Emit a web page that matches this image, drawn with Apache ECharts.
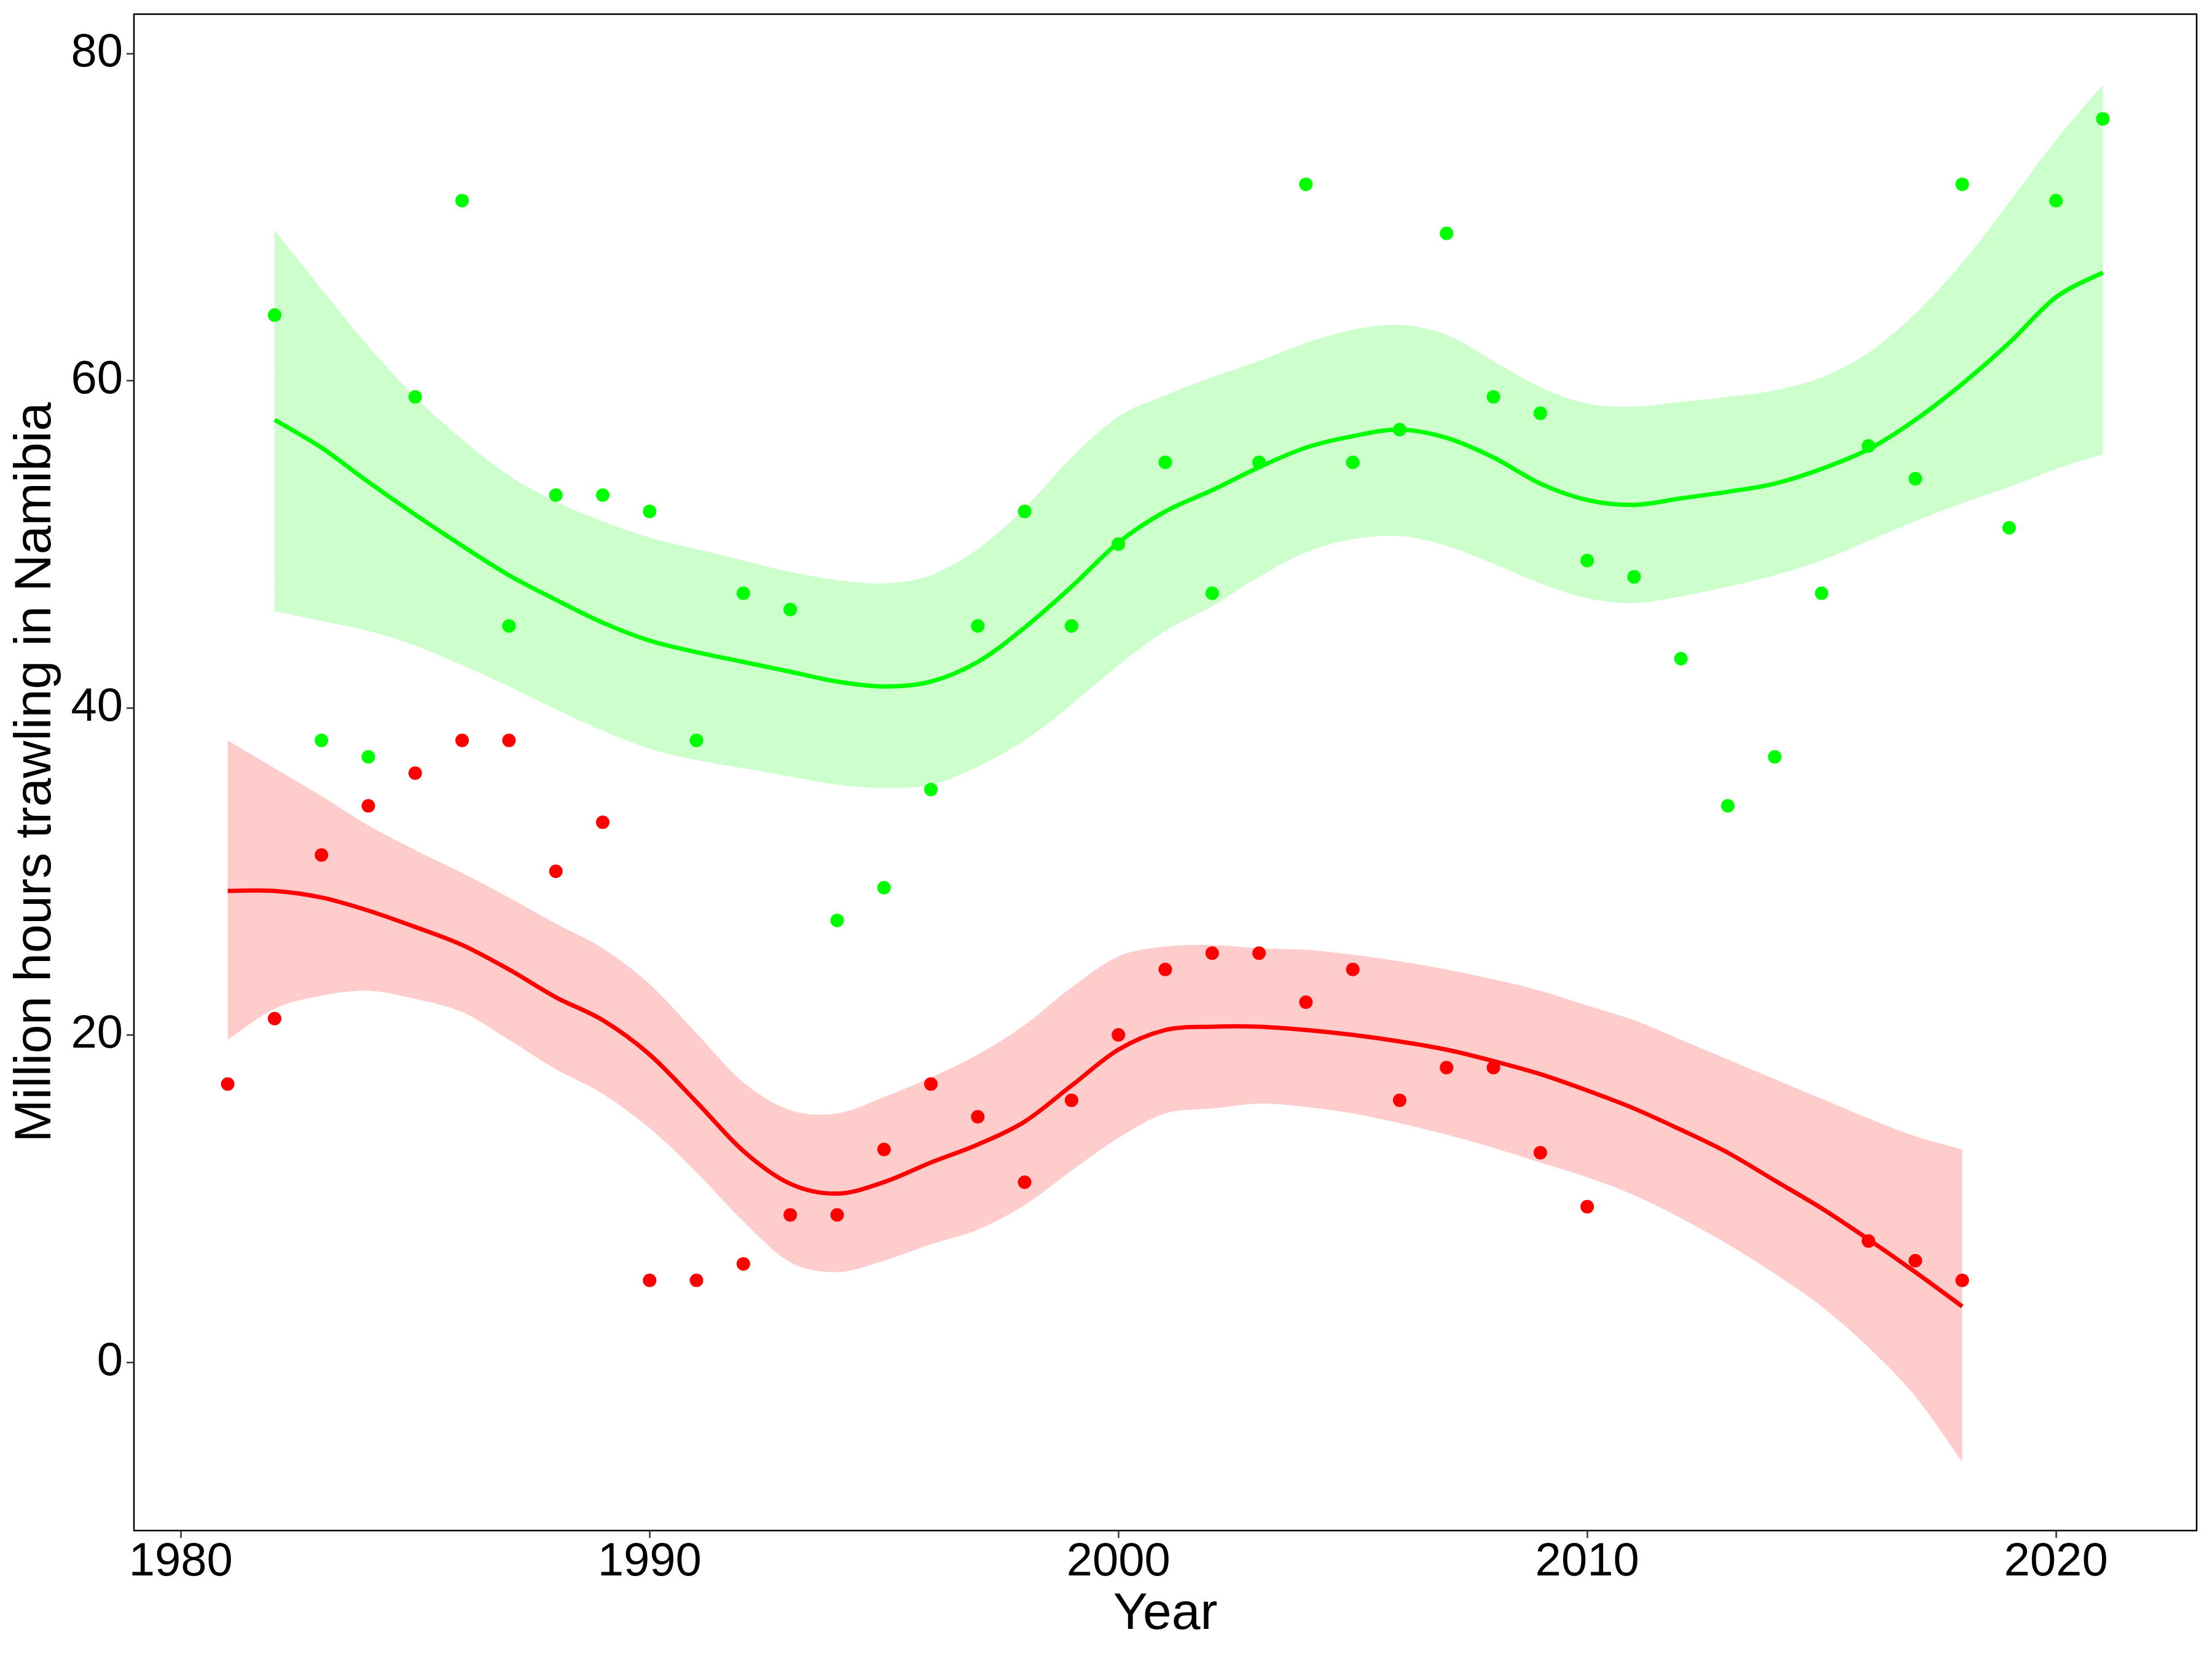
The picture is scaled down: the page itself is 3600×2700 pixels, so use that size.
<!DOCTYPE html>
<html>
<head>
<meta charset="utf-8">
<script src="https://cdn.jsdelivr.net/npm/echarts@6/dist/echarts.min.js"></script>
<style>html,body{margin:0;padding:0;background:#fff}#c{width:3600px;height:2700px}</style>
</head>
<body>
<div id="c"></div>
<script>
// ---- observed points ----
const greenYears = [1982,1983,1984,1985,1986,1987,1988,1989,1990,1991,1992,1993,1994,1995,1996,1997,1998,1999,2000,2001,2002,2003,2004,2005,2006,2007,2008,2009,2010,2011,2012,2013,2014,2015,2016,2017,2018,2019,2020,2021];
const greenValues = [64,38,37,59,71,45,53,53,52,38,47,46,27,29,35,45,52,45,50,55,47,55,72,55,57,69,59,58,49,48,43,34,37,47,56,54,72,51,71,76];
const redYears = [1981,1982,1983,1984,1985,1986,1987,1988,1989,1990,1991,1992,1993,1994,1995,1996,1997,1998,1999,2000,2001,2002,2003,2004,2005,2006,2007,2008,2009,2010,2016,2017,2018];
const redValues = [17,21,31,34,36,38,38,30,33,5,5,6,9,9,13,17,15,11,16,20,24,25,25,22,24,16,18,18,12.8,9.5,7.4,6.2,5];

// ---- smoothed fits and confidence bands (read at each year) ----
const greenFitYears = [1982,1983,1984,1985,1986,1987,1988,1989,1990,1991,1992,1993,1994,1995,1996,1997,1998,1999,2000,2001,2002,2003,2004,2005,2006,2007,2008,2009,2010,2011,2012,2013,2014,2015,2016,2017,2018,2019,2020,2021];
const greenFit = [57.6,55.9,53.8,51.8,49.9,48.1,46.6,45.2,44.1,43.4,42.8,42.2,41.6,41.3,41.6,42.8,44.9,47.4,50.1,52.0,53.3,54.7,55.9,56.6,57.0,56.5,55.3,53.7,52.7,52.4,52.8,53.2,53.7,54.6,55.8,57.6,59.8,62.3,65.1,66.6];
const greenUpper = [69.2,65.6,62.1,59.0,56.4,54.2,52.6,51.4,50.4,49.7,49.0,48.3,47.8,47.6,48.1,49.7,52.2,55.3,57.8,59.1,60.2,61.2,62.3,63.1,63.4,62.8,61.2,59.6,58.6,58.4,58.7,59.0,59.4,60.2,61.7,64.1,67.2,70.9,74.7,78.1];
const greenLower = [45.9,45.3,44.7,43.8,42.6,41.3,39.9,38.6,37.5,36.8,36.3,35.8,35.3,35.1,35.3,36.4,38.0,40.2,42.6,44.7,46.2,48.0,49.5,50.3,50.5,49.9,48.8,47.6,46.7,46.4,46.8,47.4,48.1,49.0,50.2,51.4,52.5,53.5,54.6,55.5];

const redFitYears = [1981,1982,1983,1984,1985,1986,1987,1988,1989,1990,1991,1992,1993,1994,1995,1996,1997,1998,1999,2000,2001,2002,2003,2004,2005,2006,2007,2008,2009,2010,2011,2012,2013,2014,2015,2016,2017,2018];
const redFit = [28.8,28.8,28.4,27.6,26.6,25.5,24.0,22.3,20.9,18.8,15.9,12.9,10.9,10.3,11.0,12.2,13.3,14.7,16.9,19.1,20.3,20.5,20.5,20.3,20.0,19.6,19.1,18.4,17.6,16.6,15.5,14.2,12.8,11.1,9.4,7.5,5.5,3.4];
const redUpper = [38.0,36.3,34.6,32.8,31.3,29.9,28.4,26.8,25.3,23.1,20.1,17.1,15.4,15.2,16.2,17.4,18.8,20.6,22.9,24.8,25.4,25.5,25.3,25.2,24.9,24.5,24.0,23.4,22.7,21.8,20.9,19.7,18.5,17.3,16.1,14.9,13.8,13.0];
const redLower = [19.7,21.6,22.4,22.7,22.2,21.4,19.7,17.9,16.4,14.3,11.6,8.6,6.1,5.5,6.2,7.2,8.1,9.6,11.7,13.7,15.2,15.5,15.8,15.6,15.2,14.6,13.9,13.1,12.2,11.3,10.2,8.8,7.2,5.4,3.4,0.9,-2.1,-6.1];

// ---- axis ticks ----
const xTicks = [1980,1990,2000,2010,2020];
const yTicks = [0,20,40,60,80];

const pairs = (xs, ys) => xs.map((x, i) => [x, ys[i]]);

const FONT = 'Liberation Sans, Arial, sans-serif';
const GREEN = '#00FF00', RED = '#FF0000';

// Catmull-Rom spline through pixel points, as SVG path commands
function splinePath(pts, moveFirst) {
  let d = (moveFirst ? 'M' : 'L') + pts[0][0] + ' ' + pts[0][1];
  for (let i = 0; i < pts.length - 1; i++) {
    const p0 = pts[Math.max(i - 1, 0)], p1 = pts[i], p2 = pts[i + 1], p3 = pts[Math.min(i + 2, pts.length - 1)];
    const c1x = p1[0] + (p2[0] - p0[0]) / 6, c1y = p1[1] + (p2[1] - p0[1]) / 6;
    const c2x = p2[0] - (p3[0] - p1[0]) / 6, c2y = p2[1] - (p3[1] - p1[1]) / 6;
    d += 'C' + c1x + ' ' + c1y + ' ' + c2x + ' ' + c2y + ' ' + p2[0] + ' ' + p2[1];
  }
  return d;
}

function bandSeries(xs, lo, hi, fill) {
  return {
    type: 'custom', silent: true, z: 2,
    data: xs.map((x, i) => [x, lo[i], hi[i]]),
    renderItem: function (params, api) {
      if (params.dataIndex !== 0) return null;
      const up = xs.map((x, i) => api.coord([x, hi[i]]));
      const dn = xs.map((x, i) => api.coord([x, lo[i]])).reverse();
      const d = splinePath(up, true) + splinePath(dn, false) + 'Z';
      return { type: 'path', shape: { pathData: d }, style: { fill: fill, stroke: null } };
    }
  };
}

function fitSeries(xs, ys, color) {
  return {
    type: 'custom', silent: true, z: 3,
    data: xs.map((x, i) => [x, ys[i]]),
    renderItem: function (params, api) {
      if (params.dataIndex !== 0) return null;
      const pts = xs.map((x, i) => api.coord([x, ys[i]]));
      return { type: 'path', shape: { pathData: splinePath(pts, true) },
               style: { fill: null, stroke: color, lineWidth: 7, lineJoin: 'round' } };
    }
  };
}

const chart = echarts.init(document.getElementById('c'), null, { renderer: 'canvas' });
chart.setOption({
  animation: false,
  backgroundColor: '#ffffff',
  grid: { left: 218, right: 25, top: 23, bottom: 209, show: true, borderColor: '#000', borderWidth: 2.5, backgroundColor: 'transparent' },
  xAxis: {
    type: 'value', min: 1979, max: 2023,
    name: 'Year', nameLocation: 'middle', nameGap: 95,
    nameTextStyle: { fontFamily: FONT, fontSize: 84, color: '#000' },
    axisLine: { show: false, onZero: false },
    splitLine: { show: false },
    axisTick: { show: true, length: 12, lineStyle: { color: '#333', width: 2.5 }, customValues: xTicks },
    axisLabel: { fontFamily: FONT, fontSize: 76, color: '#000', margin: 14, customValues: xTicks, formatter: v => String(v) }
  },
  yAxis: {
    type: 'value', min: -10.3, max: 82.4,
    name: 'Million hours trawling in Namibia', nameLocation: 'middle', nameGap: 117, nameRotate: 90,
    nameTextStyle: { fontFamily: FONT, fontSize: 84, color: '#000' },
    axisLine: { show: false, onZero: false },
    splitLine: { show: false },
    axisTick: { show: true, length: 12, lineStyle: { color: '#333', width: 2.5 }, customValues: yTicks },
    axisLabel: { fontFamily: FONT, fontSize: 76, color: '#000', margin: 18, customValues: yTicks, formatter: v => String(v) }
  },
  series: [
    { type: 'scatter', data: pairs(greenYears, greenValues), symbolSize: 22, itemStyle: { color: GREEN, opacity: 1 }, z: 1 },
    { type: 'scatter', data: pairs(redYears, redValues), symbolSize: 22, itemStyle: { color: RED, opacity: 1 }, z: 1 },
    bandSeries(greenFitYears, greenLower, greenUpper, 'rgba(0,255,0,0.2)'),
    bandSeries(redFitYears, redLower, redUpper, 'rgba(255,0,0,0.2)'),
    fitSeries(greenFitYears, greenFit, GREEN),
    fitSeries(redFitYears, redFit, RED)
  ]
});
</script>
</body>
</html>
